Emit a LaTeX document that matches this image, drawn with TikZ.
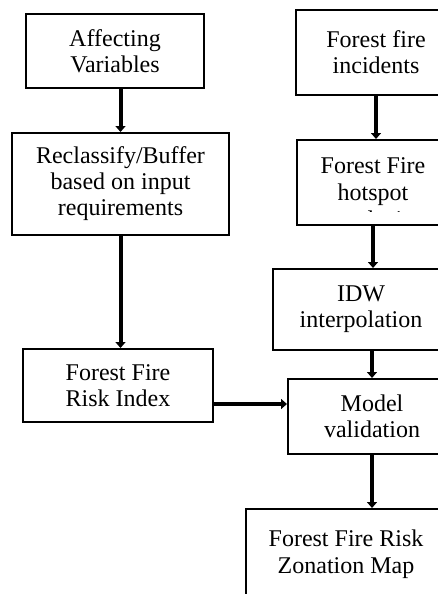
\documentclass[tikz,border=0pt]{standalone}
\usepackage{fontspec}
\setmainfont{Liberation Serif}
\usetikzlibrary{arrows.meta}

\begin{document}
\begin{tikzpicture}[x=0.5pt,y=-0.5pt,
		blk/.style={draw, line width=1pt, align=center, inner sep=0pt,
			font=\fontsize{12}{13}\selectfont},
		lbl/.style={align=center, inner sep=0pt, font=\fontsize{12}{13.5}\selectfont},
		flow/.style={line width=2pt, -{Triangle[length=3pt,width=5pt]}}]
				\useasboundingbox (0,0) rectangle (438,594);
				\clip (0,0) rectangle (438,594);
				
				% left column
				\node[blk, minimum width=89pt, minimum height=37pt] (aff) at (115,51) {Affecting\\Variables};
				\node[blk, minimum width=108.5pt, minimum height=51pt] (recl) at (120.5,184) {Reclassify/Buffer\\based on input\\requirements};
				\node[blk, minimum width=95pt, minimum height=36.5pt] (risk) at (118,385.5) {Forest Fire\\Risk Index};
				
				% right column
				\node[blk, minimum width=80pt, minimum height=42.5pt] (inc) at (376,52.5) {Forest fire\\incidents};
				\node[blk, minimum width=76pt, minimum height=42.5pt] (hot) at (373,182.5) {};
				\begin{scope}
					\clip (297,140) rectangle (460,211);
					\node[lbl, anchor=north] (hottxt) at (373,157) {Forest Fire\\hotspot\\analysis};
				\end{scope}
				\node[blk, minimum width=88pt, minimum height=40.5pt] (idw) at (361,309.5) {IDW\\interpolation};
				\node[blk, minimum width=84pt, minimum height=37.5pt] (val) at (372,416.5) {Model\\validation};
				\node[blk, anchor=north, minimum width=100pt, minimum height=60pt] (zone) at (346,508) {};
				\node[lbl, anchor=north] (zonetxt) at (346,529) {Forest Fire Risk\\Zonation Map};
				
				% arrows
				\draw[flow] (aff.south -| recl.north) -- (recl.north);
				\draw[flow] (recl.south) -- (recl.south |- risk.north);
				\draw[flow] ([yshift=-9.25pt]risk.east) -- ([yshift=-9.25pt]risk.east -| val.west);
				\draw[flow] (inc.south) -- (inc.south |- hot.north);
				\draw[flow] (hot.south) -- (hot.south |- idw.north);
				\draw[flow] (idw.south -| val.north) -- (val.north);
				\draw[flow] (val.south) -- (val.south |- zone.north);
			\end{tikzpicture}
\end{document}
